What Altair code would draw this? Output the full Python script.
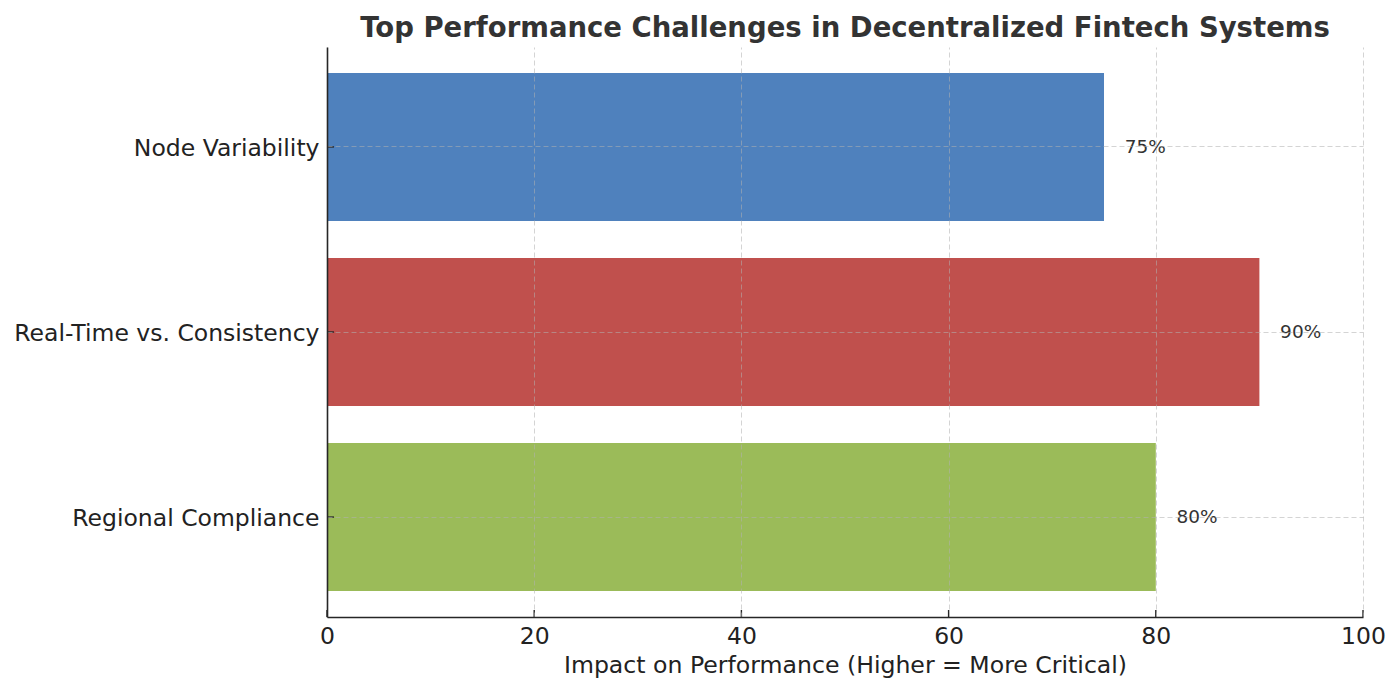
import altair as alt
import pandas as pd

challenges = ["Node Variability", "Real-Time vs. Consistency", "Regional Compliance"]
impact = [75, 90, 80]
bar_colors = ["#4F81BD", "#C0504D", "#9BBB59"]
x_ticks = [0, 20, 40, 60, 80, 100]

df = pd.DataFrame({
    "challenge": challenges,
    "impact": impact,
    "label": [f"{v}%" for v in impact],
})
ticks_df = pd.DataFrame({"tick": x_ticks})

W, H = 1036, 570
FONT = "DejaVu Sans"
SPINE = "#262626"
X_TITLE = "Impact on Performance (Higher = More Critical)"

y_scale = alt.Scale(domain=challenges, paddingInner=0.2, paddingOuter=0.14)
x_scale = alt.Scale(domain=[0, 100], nice=False)

x_axis = alt.Axis(values=x_ticks, ticks=False, labelPadding=7, labelFlush=False,
                  labelFontSize=23.5, labelColor="#222222", labelFont=FONT,
                  titleFont=FONT, titleFontSize=23.6, titleFontWeight="normal",
                  titleColor="#222222", titlePadding=6,
                  domainColor=SPINE, domainWidth=1.6,
                  grid=True, gridColor="#b0b0b0", gridOpacity=0.55,
                  gridDash=[5, 3], gridWidth=1, zindex=1)
y_axis = alt.Axis(ticks=False, labelPadding=8, labelFontSize=23.5, labelOffset=2,
                  labelColor="#222222", labelFont=FONT, labelLimit=500,
                  domainColor=SPINE, domainWidth=1.6, bandPosition=0.5,
                  grid=True, gridColor="#b0b0b0", gridOpacity=0.55,
                  gridDash=[5, 3], gridWidth=1, zindex=1)

y_enc = alt.Y("challenge:N", sort=challenges, scale=y_scale, title=None, axis=y_axis)

bars = alt.Chart(df).mark_bar().encode(
    x=alt.X("impact:Q", scale=x_scale, title=X_TITLE, axis=x_axis),
    y=y_enc,
    color=alt.Color("challenge:N", sort=challenges, legend=None,
                    scale=alt.Scale(domain=challenges, range=bar_colors)),
)

labels = alt.Chart(df).transform_calculate(
    pos="datum.impact + 2"
).mark_text(align="left", baseline="middle", fontSize=18.5, font=FONT,
            color="#333333").encode(
    x=alt.X("pos:Q", scale=x_scale, title=X_TITLE, axis=x_axis),
    y=y_enc,
    text="label:N",
)

# matplotlib-style inward ticks
x_tick_marks = alt.Chart(ticks_df).mark_rule(color=SPINE, strokeWidth=1.4).encode(
    x=alt.X("tick:Q", scale=x_scale, title=X_TITLE, axis=x_axis),
    y=alt.value(H - 7),
    y2=alt.value(H),
)
y_tick_marks = alt.Chart(df).mark_rule(color=SPINE, strokeWidth=1.4).encode(
    y=y_enc,
    x=alt.value(0),
    x2=alt.value(7),
)

chart = alt.layer(bars, labels, x_tick_marks, y_tick_marks).properties(
    width=W,
    height=H,
    autosize=alt.AutoSizeParams(type="none"),
    padding={"left": 319, "top": 39, "right": 29, "bottom": 65},
    title=alt.TitleParams(
        "Top Performance Challenges in Decentralized Fintech Systems",
        font=FONT, fontSize=27.5, fontWeight="bold", color="#333333",
        anchor="middle", offset=5,
    ),
).configure_view(stroke=None)

chart.save("out.html", embed_options={"renderer": "svg", "actions": False})
